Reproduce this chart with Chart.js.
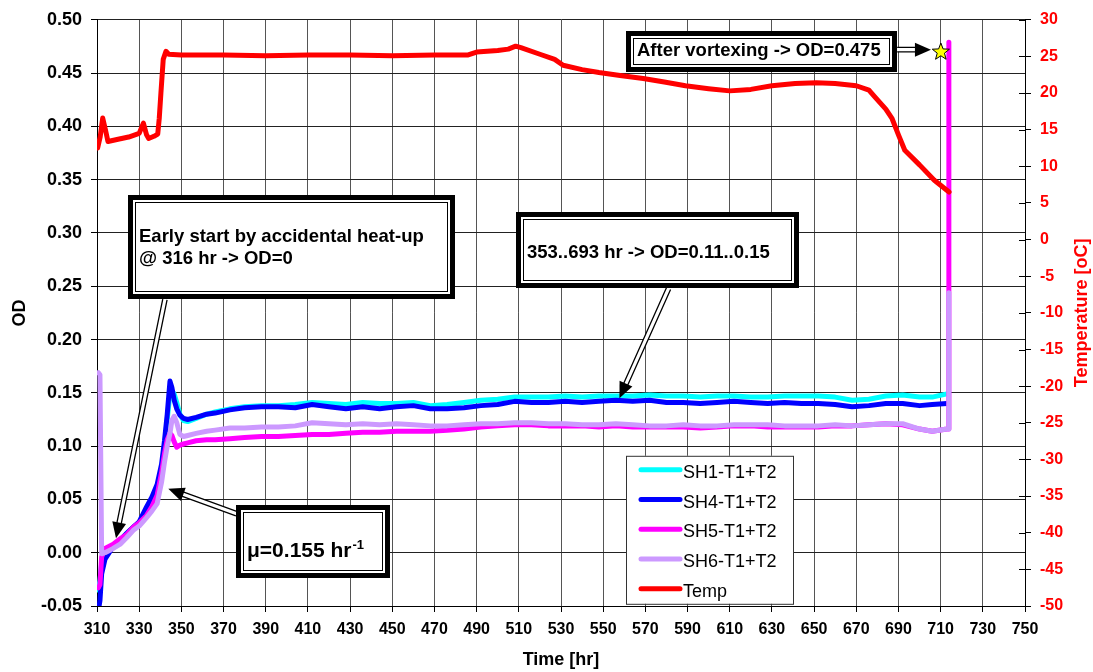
<!DOCTYPE html>
<html>
<head>
<meta charset="utf-8">
<script src="https://cdn.jsdelivr.net/npm/chart.js@4.4.0/dist/chart.umd.min.js"></script>
<style>
  html, body { margin: 0; padding: 0; background: #fff; }
  canvas { display: block; }
</style>
</head>
<body>
<canvas id="odChart" width="1093" height="672"></canvas>
<script>
// OD readings (shared time base), hours
const odTime = [310.6, 311.4, 312.2, 313.8, 317.7, 321, 324, 327.2, 330, 333.5,
  336, 338.5, 340.6, 342, 343.3, 344.6, 345.5, 346.6, 347.8, 349.3,
  351, 353, 357, 362, 366, 373, 380, 388, 396, 404,
  412, 420, 428, 436, 444, 452, 460, 468, 476, 484,
  492, 500, 508, 516, 524, 532, 540, 548, 556, 564,
  572, 580, 588, 596, 604, 612, 620, 628, 636, 644,
  652, 660, 668, 676, 684, 692, 700, 706, 713]

const sh1 = [-0.035, -0.026, -0.010, -0.001, 0.007, 0.012, 0.018, 0.024, 0.028, 0.040,
  0.050, 0.060, 0.079, 0.100, 0.125, 0.150, 0.152, 0.149, 0.141, 0.130,
  0.124, 0.123, 0.126, 0.130, 0.132, 0.135, 0.137, 0.138, 0.138, 0.139,
  0.141, 0.140, 0.139, 0.141, 0.140, 0.140, 0.141, 0.138, 0.139, 0.141,
  0.143, 0.144, 0.146, 0.146, 0.146, 0.147, 0.146, 0.147, 0.147, 0.147,
  0.148, 0.147, 0.147, 0.146, 0.147, 0.147, 0.146, 0.146, 0.147, 0.147,
  0.147, 0.146, 0.143, 0.144, 0.147, 0.148, 0.146, 0.146, 0.149]

const sh4 = [-0.055, -0.045, -0.020, -0.006, 0.006, 0.012, 0.018, 0.024, 0.029, 0.043,
  0.052, 0.064, 0.083, 0.105, 0.130, 0.161, 0.155, 0.143, 0.135, 0.129,
  0.126, 0.125, 0.127, 0.130, 0.131, 0.134, 0.136, 0.137, 0.137, 0.136,
  0.139, 0.137, 0.135, 0.137, 0.135, 0.137, 0.138, 0.135, 0.135, 0.136,
  0.138, 0.139, 0.142, 0.141, 0.141, 0.142, 0.141, 0.142, 0.143, 0.142,
  0.143, 0.141, 0.141, 0.140, 0.141, 0.142, 0.141, 0.140, 0.141, 0.140,
  0.140, 0.139, 0.137, 0.138, 0.140, 0.140, 0.138, 0.139, 0.140]

const sh5 = [-0.033, -0.030, -0.004, 0.004, 0.008, 0.013, 0.017, 0.024, 0.028, 0.035,
  0.043, 0.054, 0.075, 0.093, 0.106, 0.112, 0.110, 0.104, 0.099, 0.101,
  0.102, 0.103, 0.105, 0.106, 0.106, 0.107, 0.108, 0.109, 0.109, 0.110,
  0.111, 0.111, 0.112, 0.113, 0.113, 0.114, 0.114, 0.114, 0.115, 0.116,
  0.118, 0.119, 0.120, 0.120, 0.119, 0.119, 0.119, 0.118, 0.119, 0.118,
  0.118, 0.118, 0.118, 0.117, 0.118, 0.119, 0.119, 0.118, 0.118, 0.118,
  0.118, 0.119, 0.119, 0.120, 0.121, 0.120, 0.116, 0.114, 0.116]

const sh6 = [0.169, 0.167, -0.001, 0.000, 0.004, 0.008, 0.014, 0.021, 0.025, 0.033,
  0.039, 0.046, 0.066, 0.085, 0.100, 0.112, 0.124, 0.128, 0.122, 0.111,
  0.109, 0.110, 0.112, 0.114, 0.115, 0.117, 0.117, 0.118, 0.118, 0.119,
  0.122, 0.121, 0.120, 0.121, 0.120, 0.121, 0.120, 0.119, 0.119, 0.120,
  0.121, 0.121, 0.122, 0.122, 0.121, 0.121, 0.120, 0.120, 0.121, 0.120,
  0.119, 0.119, 0.120, 0.119, 0.119, 0.120, 0.120, 0.120, 0.119, 0.119,
  0.119, 0.120, 0.119, 0.120, 0.121, 0.121, 0.116, 0.114, 0.116]

// after vortexing (end of run)
const jumpTime = [713.8, 713.9]
const sh5Jump = [0.116, 0.479]
const sh6Jump = [0.116, 0.244]

// temperature, oC
const tempTime = [310.3, 311.5, 312.7, 314, 315.2, 320, 325, 330, 332, 333.5,
  334.5, 337, 338.8, 339.5, 340.3, 341.4, 342.7, 344, 350, 370,
  390, 410, 430, 450, 470, 486, 490, 500, 505, 508.5,
  511, 520, 527, 531, 540, 548, 558, 569, 579, 589,
  600, 610, 620, 630, 641, 651, 660, 670, 676, 679,
  684, 687, 690, 693, 700, 707, 714]
const tempVal = [12.5, 14, 16.6, 15, 13.4, 13.7, 14.0, 14.5, 15.9, 14.3,
  13.8, 14.1, 14.4, 16.5, 20, 24.6, 25.7, 25.3, 25.2, 25.2,
  25.1, 25.2, 25.2, 25.1, 25.2, 25.2, 25.6, 25.8, 26.0, 26.4,
  26.2, 25.3, 24.6, 23.8, 23.2, 22.8, 22.4, 22.0, 21.5, 21.0,
  20.6, 20.3, 20.5, 21.0, 21.3, 21.4, 21.3, 21.0, 20.4, 19.4,
  17.8, 16.5, 14.3, 12.2, 10.2, 8.1, 6.5]

const seriesNames = ['SH1-T1+T2', 'SH4-T1+T2', 'SH5-T1+T2', 'SH6-T1+T2', 'Temp']
const seriesColors = ['#00ffff', '#0000ff', '#ff00ff', '#cc99ff', '#ff0000']

const FONT = "'Liberation Sans', Arial, Helvetica, sans-serif"

function pts(xs, ys) {
  return xs.map((x, i) => ({x: x, y: ys[i]}))
}

// text boxes / arrows, in data units (time, OD)
const noteBoxes = [
  {lines: ['Early start by accidental heat-up', '@ 316 hr -> OD=0'], t1: 324.7, t2: 479.6, od1: 0.3357, od2: 0.2376, dy: -1},
  {lines: ['353..693 hr -> OD=0.11..0.15'], t1: 508.5, t2: 643, od1: 0.3198, od2: 0.2479, dy: 1},
  {lines: ['After vortexing -> OD=0.475'], t1: 561, t2: 689.4, od1: 0.4897, od2: 0.4514, dy: -2},
  {lines: ['μ=0.155 hr'], sup: '-1', size: 21, t1: 375.8, t2: 448.8, od1: 0.0443, od2: -0.0238, dy: 8}
]
const noteArrows = [
  [342.2, 0.2376, 319.0, 0.0135],
  [581, 0.2479, 557.7, 0.1449],
  [376.2, 0.0366, 343.8, 0.0599],
  [689.4, 0.472, 705.4, 0.472]
]
const starPoint = {t: 710.1, od: 0.4698}

function drawArrow(ctx, x1, y1, x2, y2) {
  let ang = Math.atan2(y2 - y1, x2 - x1)
  let len = Math.hypot(x2 - x1, y2 - y1)
  let head = 16, half = 7, gap = 2.2
  ctx.save()
  ctx.translate(x1, y1)
  ctx.rotate(ang)
  ctx.fillStyle = '#fff'
  ctx.fillRect(0, -gap, len - head, gap * 2)
  ctx.strokeStyle = '#000'
  ctx.lineWidth = 1.3
  ctx.beginPath()
  ctx.moveTo(0, -gap); ctx.lineTo(len - head + 1, -gap)
  ctx.moveTo(0, gap); ctx.lineTo(len - head + 1, gap)
  ctx.stroke()
  ctx.beginPath()
  ctx.moveTo(len, 0)
  ctx.lineTo(len - head, -half)
  ctx.lineTo(len - head, half)
  ctx.closePath()
  ctx.fillStyle = '#000'
  ctx.fill()
  ctx.restore()
}

function drawStar(ctx, cx, cy, ro, ri) {
  ctx.beginPath()
  for (let i = 0; i < 10; i++) {
    let r = i % 2 ? ri : ro
    let a = -Math.PI / 2 + i * Math.PI / 5
    ctx.lineTo(cx + r * Math.cos(a), cy + r * Math.sin(a))
  }
  ctx.closePath()
  ctx.fillStyle = '#ffff00'
  ctx.fill()
  ctx.strokeStyle = '#000'
  ctx.lineWidth = 1
  ctx.stroke()
}

const notesPlugin = {
  id: 'notes',
  afterDraw(chart) {
    const ctx = chart.ctx
    const xs = chart.scales.x, ys = chart.scales.y
    ctx.save()
    noteArrows.forEach(a => {
      drawArrow(ctx, xs.getPixelForValue(a[0]), ys.getPixelForValue(a[1]),
        xs.getPixelForValue(a[2]), ys.getPixelForValue(a[3]))
    })
    noteBoxes.forEach(b => {
      let x1 = Math.round(xs.getPixelForValue(b.t1)), x2 = Math.round(xs.getPixelForValue(b.t2))
      let y1 = Math.round(ys.getPixelForValue(b.od1)), y2 = Math.round(ys.getPixelForValue(b.od2))
      ctx.fillStyle = '#fff'
      ctx.fillRect(x1, y1, x2 - x1, y2 - y1)
      ctx.strokeStyle = '#000'
      ctx.lineWidth = 5
      ctx.strokeRect(x1 + 2.5, y1 + 2.5, x2 - x1 - 5, y2 - y1 - 5)
      ctx.lineWidth = 1
      ctx.strokeRect(x1 + 7.5, y1 + 7.5, x2 - x1 - 15, y2 - y1 - 15)
      let size = b.size || 18.5
      ctx.font = 'bold ' + size + 'px ' + FONT
      ctx.fillStyle = '#000'
      ctx.textAlign = 'left'
      ctx.textBaseline = 'alphabetic'
      let cy = (y1 + y2) / 2 + b.dy
      b.lines.forEach((ln, i) => {
        let by = cy + (i - (b.lines.length - 1) / 2) * 22 + size * 0.716 / 2
        ctx.fillText(ln, x1 + 11, by)
        if (b.sup) {
          let w = ctx.measureText(ln).width
          ctx.font = 'bold 13px ' + FONT
          ctx.fillText(b.sup, x1 + 11 + w + 1, by - 8)
          ctx.font = 'bold ' + size + 'px ' + FONT
        }
      })
    })
    drawStar(ctx, xs.getPixelForValue(starPoint.t), ys.getPixelForValue(starPoint.od), 9, 3.8)
    ctx.restore()
  }
}

const legendPlugin = {
  id: 'boxLegend',
  afterDraw(chart) {
    const ctx = chart.ctx, a = chart.chartArea
    let x = a.left + 529, y = a.top + 436, w = 167, h = 148
    ctx.save()
    ctx.fillStyle = '#fff'
    ctx.fillRect(x, y, w, h)
    ctx.strokeStyle = '#333'
    ctx.lineWidth = 1
    ctx.strokeRect(x + 0.5, y + 0.5, w, h)
    ctx.font = '18px ' + FONT
    ctx.textAlign = 'left'
    ctx.textBaseline = 'alphabetic'
    chart.data.datasets.forEach((ds, i) => {
      let ry = y + 14 + i * 29.75
      ctx.strokeStyle = ds.borderColor
      ctx.lineWidth = 5
      ctx.lineCap = 'round'
      ctx.beginPath()
      ctx.moveTo(x + 15, ry)
      ctx.lineTo(x + 54, ry)
      ctx.stroke()
      ctx.fillStyle = '#000'
      ctx.fillText(ds.label, x + 57, ry + 8)
    })
    ctx.restore()
  }
}

const titlesPlugin = {
  id: 'axisTitles',
  afterDraw(chart) {
    const ctx = chart.ctx, a = chart.chartArea
    let midY = (a.top + a.bottom) / 2
    ctx.save()
    ctx.font = 'bold 18px ' + FONT
    ctx.textAlign = 'center'
    ctx.textBaseline = 'middle'
    ctx.fillStyle = '#000'
    ctx.fillText('Time [hr]', (a.left + a.right) / 2, chart.height - 12)
    ctx.save()
    ctx.translate(20, midY)
    ctx.rotate(-Math.PI / 2)
    ctx.fillText('OD', 0, 0)
    ctx.restore()
    ctx.translate(chart.width - 11, midY)
    ctx.rotate(-Math.PI / 2)
    ctx.fillStyle = '#ff0000'
    ctx.fillText('Temperature [oC]', 0, 0)
    ctx.restore()

    // right axis tick marks cross the axis line
    const s = chart.scales.yT
    ctx.save()
    ctx.strokeStyle = '#000'
    ctx.lineWidth = 1
    ctx.beginPath()
    s.ticks.forEach(t => {
      let py = Math.round(s.getPixelForValue(t.value)) + 0.5
      ctx.moveTo(s.left - 6, py)
      ctx.lineTo(s.left, py)
    })
    ctx.stroke()
    ctx.restore()
  }
}

function lineSet(i, data, axis, order) {
  return {
    label: seriesNames[i],
    data: data,
    yAxisID: axis,
    borderColor: seriesColors[i],
    backgroundColor: seriesColors[i],
    borderWidth: 5,
    pointRadius: 0,
    tension: 0,
    borderJoinStyle: 'round',
    borderCapStyle: 'round',
    order: order
  }
}

let ctx = document.querySelector('#odChart').getContext('2d')
let odChart = new Chart(ctx, {
  type: 'line',
  data: {
    datasets: [
      lineSet(0, pts(odTime, sh1), 'y', 5),
      lineSet(1, pts(odTime, sh4), 'y', 4),
      lineSet(2, pts(odTime.concat(jumpTime), sh5.concat(sh5Jump)), 'y', 3),
      lineSet(3, pts(odTime.concat(jumpTime), sh6.concat(sh6Jump)), 'y', 2),
      lineSet(4, pts(tempTime, tempVal), 'yT', 1)
    ]
  },
  options: {
    responsive: false,
    animation: false,
    devicePixelRatio: 1,
    layout: { padding: { top: 17, left: 0, right: 0, bottom: 0 } },
    plugins: {
      legend: { display: false },
      tooltip: { enabled: false }
    },
    scales: {
      x: {
        type: 'linear',
        min: 310,
        max: 750,
        afterFit: (s) => { s.height = 66 },
        ticks: {
          stepSize: 20,
          autoSkip: false,
          maxRotation: 0,
          padding: 8,
          color: '#000',
          font: { family: FONT, size: 16, weight: 'bold' }
        },
        grid: { color: '#555', tickColor: '#000', tickLength: 6 },
        border: { color: '#000', width: 1 }
      },
      y: {
        position: 'left',
        min: -0.05,
        max: 0.5,
        afterFit: (s) => { s.width = 97 },
        ticks: {
          stepSize: 0.05,
          padding: 9,
          color: '#000',
          font: { family: FONT, size: 18, weight: 'bold' },
          callback: (v) => v.toFixed(2)
        },
        grid: { color: '#222', tickColor: '#000', tickLength: 6 },
        border: { color: '#000', width: 1 }
      },
      yT: {
        position: 'right',
        min: -50,
        max: 30,
        afterFit: (s) => { s.width = 68 },
        ticks: {
          stepSize: 5,
          padding: 9,
          color: '#ff0000',
          font: { family: FONT, size: 16, weight: 'bold' }
        },
        grid: { drawOnChartArea: false, color: '#000', tickLength: 6 },
        border: { color: '#000', width: 1 }
      }
    }
  },
  plugins: [titlesPlugin, notesPlugin, legendPlugin]
})
</script>
</body>
</html>
